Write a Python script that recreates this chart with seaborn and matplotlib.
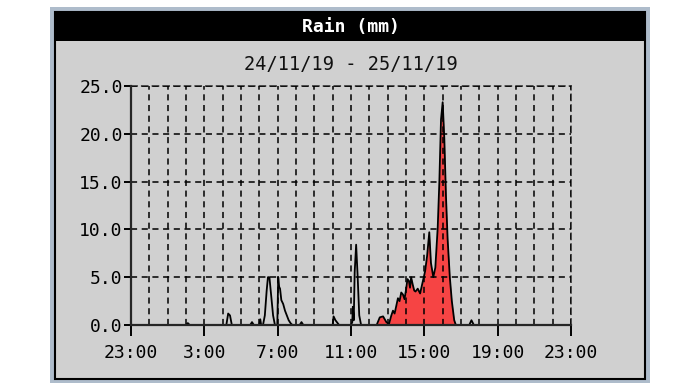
import matplotlib
matplotlib.use("Agg")
import matplotlib.pyplot as plt
from matplotlib.patches import Rectangle
from matplotlib.ticker import MultipleLocator, FixedLocator
import pandas as pd
import seaborn as sns

# hours since 23:00 on 24/11/19, rain in mm
hours = [0, 3.0, 3.1, 3.2, 5.2, 5.3, 5.4, 5.5, 6.5, 6.6, 6.7, 7.0, 7.05, 7.1,
         7.2, 7.3, 7.4, 7.47, 7.55, 7.62, 7.75, 7.85, 7.98, 8.03, 8.08, 8.13,
         8.2, 8.3, 8.4, 8.5, 8.6, 8.7, 8.8, 9.2, 9.3, 9.4, 11.0, 11.05, 11.15,
         11.35, 12.0, 12.07, 12.1, 12.15, 12.2, 12.28, 12.36, 12.45, 12.55,
         13.4, 13.57, 13.75, 13.93, 14.07, 14.2, 14.29, 14.38, 14.47, 14.56,
         14.65, 14.74, 14.83, 14.92, 15.01, 15.08, 15.16, 15.22, 15.28, 15.37,
         15.45, 15.52, 15.64, 15.77, 15.91, 16.04, 16.15, 16.27, 16.36, 16.49,
         16.6, 16.73, 16.82, 16.91, 17.0, 17.09, 17.18, 17.27, 17.39, 17.5,
         17.63, 17.72, 18.45, 18.57, 18.7, 24]
rain = [0, 0, 0.2, 0, 0, 1.2, 1.0, 0, 0, 0.3, 0, 0, 0.6, 0,
        0, 1.0, 3.6, 5.0, 5.0, 3.6, 1.0, 0, 0, 5.0, 4.0, 3.8,
        2.6, 2.2, 1.5, 1.0, 0.5, 0.2, 0, 0, 0.3, 0, 0, 0.9, 0.5,
        0, 0, 0.3, 1.9, 0.5, 5.5, 8.4, 5.2, 1.0, 0,
        0, 0.8, 0.9, 0.3, 0.1, 1.0, 1.5, 1.2, 2.0, 2.8,
        2.5, 3.4, 3.2, 2.7, 3.8, 4.8, 4.6, 3.9, 5.0, 4.2,
        3.6, 3.5, 3.8, 3.3, 4.5, 5.6, 7.2, 9.7, 6.5, 5.0,
        6.0, 10.2, 15.0, 21.5, 23.3, 19.5, 13.5, 9.0, 5.0, 2.5,
        0.5, 0, 0, 0.5, 0, 0]
fill_from, fill_to = 13.4, 17.72

tick_hours = [0, 4, 8, 12, 16, 20, 24]
tick_labels = ["23:00", "3:00", "7:00", "11:00", "15:00", "19:00", "23:00"]

df = pd.DataFrame({"hour": hours, "rain": rain})
red = df[(df.hour >= fill_from) & (df.hour <= fill_to)]

sns.set_style("ticks")
plt.rcParams["font.family"] = ["DejaVu Sans Mono"]

W, H = 689, 392
fig = plt.figure(figsize=(W / 100, H / 100), dpi=100, facecolor="white")

def box(x0, y0, x1, y1, **kw):
    fig.patches.append(Rectangle((x0 / W, 1 - y1 / H), (x1 - x0) / W, (y1 - y0) / H,
                                 transform=fig.transFigure, zorder=-5, **kw))

box(50, 7, 650, 383, facecolor="#aebccb", edgecolor="none")
box(55, 12, 645, 379, facecolor="#d0d0d0", edgecolor="black", linewidth=1.5)
box(55, 12, 645, 41, facecolor="black", edgecolor="none")

fig.text(351 / W, 1 - 27 / H, "Rain (mm)", ha="center", va="center",
         color="white", fontsize=13, fontweight="bold")
fig.text(351 / W, 1 - 65 / H, "24/11/19 - 25/11/19", ha="center", va="center",
         color="#111111", fontsize=13.4)

ax = fig.add_axes([131 / W, 1 - 325 / H, 440 / W, 239 / H])
ax.set_facecolor("none")

ax.fill_between(red.hour, 0, red.rain, color="#f64444", linewidth=0, zorder=1)
sns.lineplot(data=df, x="hour", y="rain", ax=ax, color="black", linewidth=1.3, zorder=3)

ax.set_xlim(0, 24)
ax.set_ylim(0, 25)
ax.xaxis.set_major_locator(FixedLocator(tick_hours))
ax.set_xticklabels(tick_labels)
ax.xaxis.set_minor_locator(MultipleLocator(1))
ax.yaxis.set_major_locator(MultipleLocator(5))
ax.yaxis.set_major_formatter(lambda v, p: f"{v:.1f}")
ax.set_xlabel("")
ax.set_ylabel("")

dash = (0, (4, 3))
ax.grid(True, which="both", axis="x", color="black", linestyle=dash, linewidth=1.1, zorder=2)
ax.grid(True, which="major", axis="y", color="black", linestyle=dash, linewidth=1.1, zorder=2)
ax.set_axisbelow(False)

for side in ["left", "bottom"]:
    ax.spines[side].set_linewidth(1.6)
    ax.spines[side].set_zorder(4)
for side in ["top", "right"]:
    ax.spines[side].set_visible(True)
    ax.spines[side].set_linestyle(dash)
    ax.spines[side].set_linewidth(1.1)

ax.tick_params(axis="x", which="major", length=8, width=1.4, pad=6,
               labelsize=13, colors="black")
ax.tick_params(axis="x", which="minor", length=0)
ax.tick_params(axis="y", length=5, width=1.4, pad=1, labelsize=13, colors="black")

fig.savefig("out.png", dpi=100, facecolor="white")
